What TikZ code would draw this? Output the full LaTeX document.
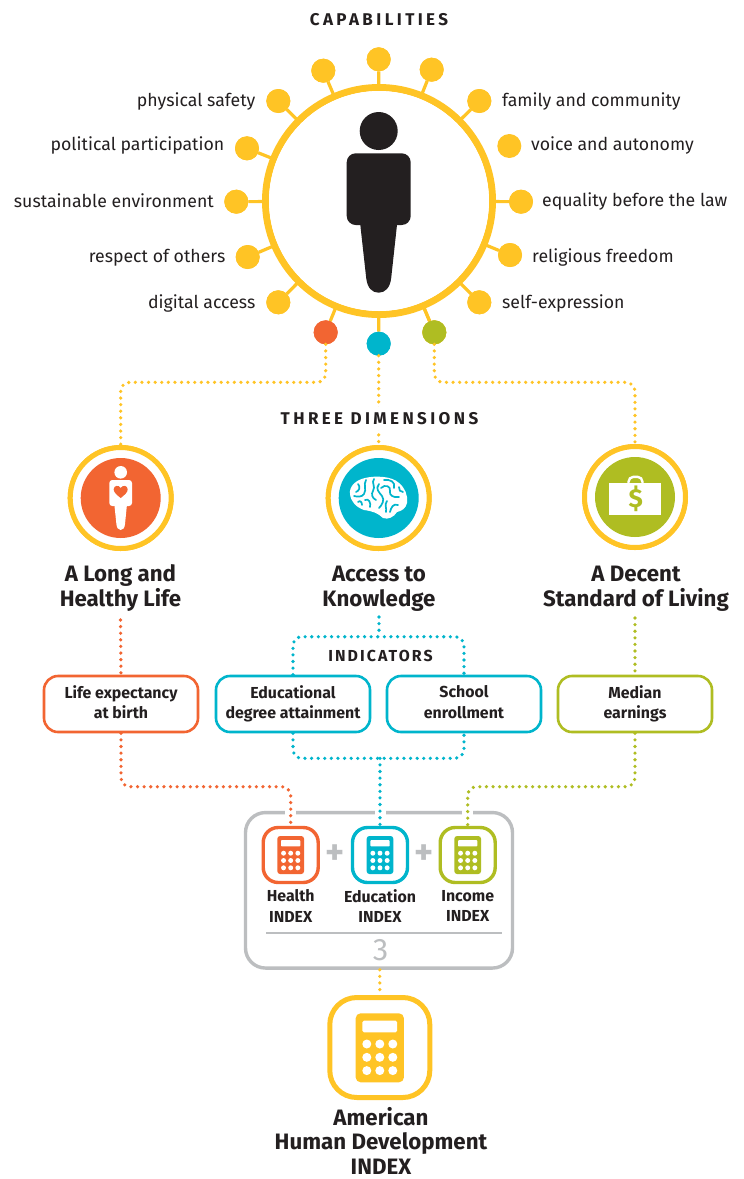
\documentclass[tikz,border=0pt]{standalone}
\usepackage{fontspec}
\setmainfont{Fira Sans}
\definecolor{cyel}{HTML}{FFC425}
\definecolor{cora}{HTML}{F26532}
\definecolor{cteal}{HTML}{00B5CC}
\definecolor{cgrn}{HTML}{AFBD22}
\definecolor{cgray}{HTML}{BCBEC0}
\definecolor{cdark}{HTML}{231F20}
\newcommand{\st}{\rule[-4pt]{0pt}{15pt}}
\newcommand{\sttl}{\rule[-5pt]{0pt}{20pt}}
\newcommand{\calcicon}[7]{%
  \fill[#5,rounded corners=#6*5pt] (#1-#3/2,#2-#4/2) rectangle (#1+#3/2,#2+#4/2);
  \fill[white,rounded corners=#6*1.5pt] (#1-#3/2+#6*6.8,#2-#4/2+#6*7.4) rectangle (#1+#3/2-#6*6.8,#2-#4/2+#6*19);
  \foreach \dx in {-13,0,13} \foreach \dy in {-13.3,0,13.3}
    \fill[white] (#1+#6*\dx,#2+#7+#6*\dy) circle[radius=#6*4.5];
}
\tikzset{
  x=1pt,y=-1pt,
  lbl/.style={font=\fontsize{17.7}{20}\selectfont,text=cdark,inner sep=0pt},
  head/.style={font=\fontsize{17}{20}\bfseries\selectfont\addfontfeature{LetterSpace=20},text=cdark,inner sep=0pt},
  title/.style={font=\fontsize{22.3}{25}\bfseries\selectfont,text=cdark,align=center,inner sep=0pt},
  small/.style={font=\fontsize{15.9}{20.5}\bfseries\selectfont,text=cdark,align=center,inner sep=0pt},
  sat/.style={circle,fill=#1,minimum size=24,inner sep=0pt,outer sep=0pt},
  spoke/.style={draw=cyel,line width=3.2pt},
  dots/.style={draw=#1,line width=3.6pt,line cap=round,dash pattern=on 0pt off 6.6pt,rounded corners=9pt},
  dimring/.style={circle,draw=cyel,line width=5pt,fill=white,minimum size=101,inner sep=0pt},
  dimdisc/.style={circle,fill=#1,minimum size=80,inner sep=0pt},
  indbox/.style={rectangle,draw=#1,line width=2.6pt,rounded corners=14pt,minimum width=154,minimum height=56,inner sep=0pt,fill=white,
    font=\fontsize{15.9}{20.5}\bfseries\selectfont,text=cdark,align=center},
  calcbox/.style={rectangle,draw=#1,line width=3.4pt,rounded corners=15pt,minimum width=55,minimum height=55,inner sep=0pt,fill=white},
  halo/.style={draw=white,line width=11pt},
}
\begin{document}
\begin{tikzpicture}
\useasboundingbox (0,0) rectangle (744,1179);
\fill[white] (0,0) rectangle (744,1179);

% heading and hub
\node[head] (capt) at (379,19.5) {CAPABILITIES};
\foreach \n/\x/\y in {a/378.7/59.3,b/323.3/70.7,c/431.7/69.7,d/278.3/101,e/479.3/101,f/247/148.3,g/509.3/146,h/236.3/201.7,i/521/201.7,j/247.7/257,k/510/255,l/278.3/302.3,m/479.3/302.3}
  \node[sat=cyel] (s\n) at (\x,\y) {};
\node[sat=cora] (so) at (325.7,332.3) {};
\node[sat=cteal] (st) at (378.7,343.7) {};
\node[sat=cgrn] (sg) at (434.3,332.3) {};
\node[circle,draw=cyel,line width=7pt,fill=white,minimum size=227,inner sep=0pt,outer sep=0pt] (hub) at (379,201) {};
\foreach \n in {a,b,c,d,e,f,g,h,i,j,k,l,m,o,t,g}
  \draw[spoke,shorten <=-1pt] (hub) -- (s\n);
\foreach \n in {a,b,c,d,e,f,g,h,i,j,k,l,m} \node[sat=cyel] at (s\n) {};
\node[sat=cora] at (so) {};
\node[sat=cteal] at (st) {};
\node[sat=cgrn] at (sg) {};
\fill[white] (hub.center) circle[radius=110];

% person
\fill[cdark] (378.7,131) circle[radius=19];
\fill[cdark,rounded corners=9pt] (346.7,153.3) rectangle (410.7,225);
\fill[cdark] (360,222) -- (397.3,222) -- (391.2,278) .. controls (390,288) and (385,292.7) .. (378.7,292.7)
  .. controls (372,292.7) and (367.4,288) .. (366.2,278) -- cycle;

% capability labels
\node[lbl,anchor=east] (l1) at (255.5,101.5) {physical safety};
\node[lbl,anchor=east] (l2) at (224.5,145.5) {political participation};
\node[lbl,anchor=east] (l3) at (214,201) {sustainable environment};
\node[lbl,anchor=east] (l4) at (225.5,257.5) {respect of others};
\node[lbl,anchor=east] (l5) at (255.5,303) {digital access};
\node[lbl,anchor=west] (r1) at (502,101.5) {family and community};
\node[lbl,anchor=west] (r2) at (531,145.5) {voice and autonomy};
\node[lbl,anchor=west] (r3) at (542,201.5) {equality before the law};
\node[lbl,anchor=west] (r4) at (532,257.5) {religious freedom};
\node[lbl,anchor=west] (r5) at (502,303) {self-expression};

% dimensions
\node[dimring] (d1) at (120.7,498) {};
\node[dimring] (d2) at (378.7,498) {};
\node[dimring] (d3) at (635,497) {};
\coordinate (busy) at (0,382.3);
\draw[dots=cyel] (so.south) -- (so.south |- busy) -- (d1.north |- busy) -- (d1.north);
\draw[dots=cyel] (sg.south) -- (sg.south |- busy) -- (d3.north |- busy) -- (d3.north);
\draw[dots=cyel] (st.south) -- (d2.north);
\node[font=\fontsize{17}{20}\bfseries\selectfont\addfontfeature{LetterSpace=20},text=cdark,fill=white,inner xsep=2pt,inner ysep=5pt] (dimt) at (379.5,418.5) {THREE DIMENSIONS};
\node[dimring] at (d1) {};
\node[dimring] at (d2) {};
\node[dimring] at (d3) {};
\node[dimdisc=cora] at (d1) {};
\node[dimdisc=cteal] at (d2) {};
\node[dimdisc=cgrn] at (d3) {};

% small person with heart
\fill[white] (120.7,472.3) circle[radius=6.3];
\fill[white,rounded corners=3pt] (109.3,480) rectangle (132,506);
\fill[white] (114.3,504) -- (127,504) -- (125,524) .. controls (124.6,528) and (123,530) .. (120.7,530)
  .. controls (118.4,530) and (116.8,528) .. (116.4,524) -- cycle;
\fill[cora] (120.7,498) .. controls (117,495) and (113.7,492.5) .. (113.7,489.3)
  .. controls (113.7,485.5) and (118.8,484.5) .. (120.7,488)
  .. controls (122.6,484.5) and (127.7,485.5) .. (127.7,489.3)
  .. controls (127.7,492.5) and (124.4,495) .. (120.7,498) -- cycle;

% brain
\fill[white] (350,494) .. controls (349,486) and (356,480) .. (365,478)
  .. controls (375,475.5) and (392,476) .. (399,483)
  .. controls (405,488) and (408,495) .. (407,503)
  .. controls (406,508) and (402,511) .. (397,512)
  .. controls (394,517) and (388,520) .. (383,518)
  .. controls (378,513) and (372,511) .. (364,510)
  .. controls (356,507) and (351,502) .. (350,494) -- cycle;
\begin{scope}[draw=cteal,line width=1.7pt,line cap=round]
\draw (358,484) .. controls (361,487) and (359,491) .. (356,492);
\draw (366,480) .. controls (363,485) and (367,489) .. (364,494) .. controls (362,497) and (358,497) .. (354,496);
\draw (374,479) .. controls (371,483) and (376,486) .. (373,491) .. controls (371,494) and (372,498) .. (376,500);
\draw (379,484) .. controls (375,489) and (379,492) .. (382,496) .. controls (385,500) and (382,505) .. (379,508);
\draw (384,480) .. controls (390,479) and (396,482) .. (394,488);
\draw (381,488) .. controls (385,484) and (391,486) .. (390,491) .. controls (389,495) and (393,498) .. (399,497);
\draw (365,500) .. controls (369,498) and (371,503) .. (370,507);
\draw (358,502) .. controls (360,500) and (362,502) .. (362,505);
\draw (398,505) .. controls (393,503) and (391,508) .. (390,512) ;
\draw (403,492) .. controls (400,492) and (399,490) .. (399,487);
\draw (386,512) .. controls (387,508) and (384,505) .. (387,501);
\end{scope}

% briefcase
\draw[white,line width=2.4pt,rounded corners=5pt] (628.5,484) -- (628.5,476.8) -- (642.5,476.8) -- (642.5,484);
\fill[white] (609.3,482.7) rectangle (661,515);
\node[font=\fontsize{26}{26}\bfseries\selectfont,text=cgrn,inner sep=0pt] (dollar) at (635.7,499) {\$};

% titles
\node[title] (t1) at (120.5,588) {\sttl A Long and\\\sttl Healthy Life};
\node[title] (t2) at (379,588.5) {\sttl Access to\\\sttl Knowledge};
\node[title] (t3) at (636,588.5) {\sttl A Decent\\\sttl Standard of Living};

% indicators
\node[indbox=cora] (b1) at (121,704) {\st Life expectancy\\\st at birth};
\node[indbox=cteal] (b2) at (293,704) {\st Educational\\\st degree attainment};
\node[indbox=cteal] (b3) at (464,704) {\st School\\\st enrollment};
\node[indbox=cgrn] (b4) at (635,704) {\st Median\\\st earnings};
\coordinate (topy) at (0,636.7);
\coordinate (boty) at (0,758.3);
\coordinate (midy) at (0,786.7);
\coordinate (t1s) at (120.5,620);
\coordinate (t2s) at (379,617);
\coordinate (t3s) at (635,618);

% index panel
\node[rectangle,draw=cgray,line width=3.4pt,rounded corners=20pt,minimum width=267,minimum height=155.5,inner sep=0pt] (panel) at (379,890.3) {};
\node[calcbox=cora] (c1) at (290.7,855) {};
\node[calcbox=cteal] (c2) at (380,855) {};
\node[calcbox=cgrn] (c3) at (467.7,855) {};
\draw[halo] (c1.north |- panel.north) ++(0,-4) -- ++(0,8);
\draw[halo] (c2.north |- panel.north) ++(0,-4) -- ++(0,8);
\draw[halo] (c3.north |- panel.north) ++(0,-4) -- ++(0,8);

\draw[dots=cora] (t1s) -- (b1.north);
\draw[dots=cgrn] (t3s) -- (b4.north);
\draw[dots=cteal] (t2s) -- (t2s |- topy);
\draw[dots=cteal] (b2.north) -- (b2.north |- topy) -- (b3.north |- topy) -- (b3.north);
\draw[dots=cteal] (b2.south) -- (b2.south |- boty) -- (b3.south |- boty) -- (b3.south);
\draw[dots=cteal] (c2.north |- boty) -- (c2.north);
\draw[dots=cora] (b1.south) -- (b1.south |- midy) -- (c1.north |- midy) -- (c1.north);
\draw[dots=cgrn] (b4.south) -- (b4.south |- midy) -- (c3.north |- midy) -- (c3.north);
\node[font=\fontsize{15.9}{20}\bfseries\selectfont\addfontfeature{LetterSpace=13},text=cdark,inner sep=0pt] (indt) at (380.5,655.5) {INDICATORS};

\calcicon{290.7}{855}{26.7}{38}{cora}{0.55}{5.5}
\calcicon{380}{855}{26.7}{38}{cteal}{0.55}{5.5}
\calcicon{467.7}{855}{26.7}{38}{cgrn}{0.55}{5.5}
\node[font=\fontsize{36}{36}\bfseries\selectfont,text=cgray,inner sep=0pt] (p1) at (335,854.5) {+};
\node[font=\fontsize{36}{36}\bfseries\selectfont,text=cgray,inner sep=0pt] (p2) at (424,854.5) {+};
\node[small] (n1) at (290.7,908) {\st Health\\\st INDEX};
\node[small] (n2) at (380,908) {\st Education\\\st INDEX};
\node[small] (n3) at (467.7,908) {\st Income\\\st INDEX};
\coordinate (rl) at (266,932.7);
\coordinate (rr) at (502,932.7);
\draw[cgray,line width=2pt] (rl) -- (rr);
\node[font=\fontsize{31}{31}\selectfont,text=cgray,inner sep=0pt] (three) at (380.5,950) {3};

% overall index
\node[rectangle,draw=cyel,line width=5pt,rounded corners=27pt,minimum width=100,minimum height=100,inner sep=0pt,fill=white] (big) at (379.8,1047.5) {};
\draw[dots=cyel] (big.north |- panel.south) -- (big.north);
\calcicon{379.8}{1047.8}{48.3}{69}{cyel}{1}{9.5}
\node[title] (bigt) at (381,1143) {\sttl American\\[-0.5pt]\sttl Human Development\\[-0.5pt]\sttl INDEX};
\end{tikzpicture}
\end{document}
